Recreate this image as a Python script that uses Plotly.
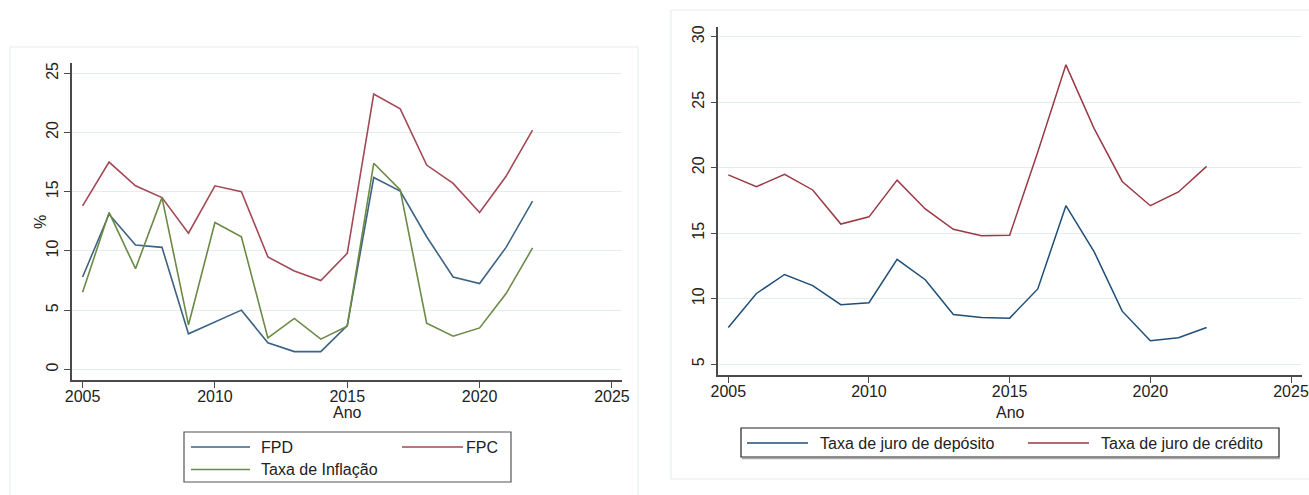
import plotly.graph_objects as go

# ---- data -------------------------------------------------------------
anos = list(range(2005, 2023))

fpd = [7.8, 13.1, 10.5, 10.3, 3.0, 4.0, 5.0, 2.25, 1.5, 1.5, 3.7, 16.2, 15.05,
       11.2, 7.8, 7.25, 10.3, 14.2]
fpc = [13.8, 17.5, 15.5, 14.5, 11.5, 15.5, 15.0, 9.5, 8.3, 7.5, 9.8, 23.25, 22.0,
       17.25, 15.7, 13.25, 16.3, 20.2]
inflacao = [6.5, 13.25, 8.5, 14.5, 3.75, 12.4, 11.2, 2.65, 4.3, 2.55, 3.65, 17.4, 15.15,
            3.9, 2.8, 3.5, 6.4, 10.25]

juro_deposito = [7.8, 10.4, 11.85, 11.0, 9.55, 9.7, 13.0, 11.45, 8.8, 8.57, 8.52, 10.75,
                 17.1, 13.6, 9.05, 6.8, 7.03, 7.8]
juro_credito = [19.45, 18.55, 19.5, 18.3, 15.7, 16.25, 19.05, 16.85, 15.3, 14.8, 14.85,
                21.2, 27.85, 23.0, 18.95, 17.1, 18.15, 20.1]

x_ticks = [2005, 2010, 2015, 2020, 2025]
y_ticks_esq = [0, 5, 10, 15, 20, 25]
y_ticks_dir = [5, 10, 15, 20, 25, 30]

# ---- styling ----------------------------------------------------------
W, H = 1309, 495
FONT = "Liberation Sans, Arial, sans-serif"
FS = 16
AZUL_E, VERM_E, VERDE_E = "#3d6384", "#a34a56", "#6a8a45"
AZUL_D, VERM_D = "#1f4e77", "#993a44"
GRID = "#e6eded"
EIXO = "#4a4a4a"


def px(x):
    return x / W


def py(y):
    return 1 - y / H


fig = go.Figure()

fig.add_trace(go.Scatter(x=anos, y=fpd, mode="lines", line=dict(color=AZUL_E, width=1.6),
                         xaxis="x", yaxis="y", showlegend=False))
fig.add_trace(go.Scatter(x=anos, y=fpc, mode="lines", line=dict(color=VERM_E, width=1.6),
                         xaxis="x", yaxis="y", showlegend=False))
fig.add_trace(go.Scatter(x=anos, y=inflacao, mode="lines", line=dict(color=VERDE_E, width=1.6),
                         xaxis="x", yaxis="y", showlegend=False))

fig.add_trace(go.Scatter(x=anos, y=juro_deposito, mode="lines", line=dict(color=AZUL_D, width=1.5),
                         xaxis="x2", yaxis="y2", showlegend=False))
fig.add_trace(go.Scatter(x=anos, y=juro_credito, mode="lines", line=dict(color=VERM_D, width=1.5),
                         xaxis="x2", yaxis="y2", showlegend=False))

tick_font = dict(family=FONT, size=FS, color="#222")


def eixo_x(dom, rng, anchor):
    return dict(domain=dom, range=rng, anchor=anchor, tickvals=x_ticks,
                showline=True, linecolor=EIXO, linewidth=1.5, ticks="outside",
                ticklen=6, tickwidth=1.3, tickcolor=EIXO, showgrid=False,
                zeroline=False, tickfont=tick_font, automargin=False,
                ticklabelstandoff=-5)


def eixo_y(dom, rng, anchor, vals):
    return dict(domain=dom, range=rng, anchor=anchor, tickvals=vals,
                showline=True, linecolor=EIXO, linewidth=1.5, ticks="outside",
                ticklen=6, tickwidth=1.3, tickcolor=EIXO, showgrid=True,
                gridcolor=GRID, gridwidth=1.3, zeroline=False, tickangle=-90,
                tickfont=tick_font, automargin=False)


shapes = [
    # panel frames
    dict(type="rect", xref="paper", yref="paper", x0=px(10), x1=px(638), y0=py(500), y1=py(47),
         line=dict(color="#e9eeee", width=1.2), fillcolor="white", layer="below"),
    dict(type="rect", xref="paper", yref="paper", x0=px(671), x1=px(1320), y0=py(479), y1=py(10),
         line=dict(color="#e9eeee", width=1.2), fillcolor="white", layer="below"),
    # legend boxes
    dict(type="rect", xref="paper", yref="paper", x0=px(184), x1=px(511), y0=py(482), y1=py(432),
         line=dict(color="#555", width=1.2)),
    dict(type="line", xref="paper", yref="paper", x0=px(742), x1=px(1280), y0=py(458.5), y1=py(458.5),
         line=dict(color="#aaa", width=1.5)),
    dict(type="rect", xref="paper", yref="paper", x0=px(741), x1=px(1279), y0=py(457), y1=py(428),
         line=dict(color="#222", width=1.2), fillcolor="white"),
]

annotations = [
    dict(text="%", x=px(40), y=py(222), textangle=-90),
    dict(text="Ano", x=px(347), y=py(412)),
    dict(text="Ano", x=px(1010), y=py(412)),
]

# legend entries: sample line + label
legendas = [
    (191, 250, 259, 447, AZUL_E, "FPD"),
    (402, 463, 464, 447, VERM_E, "FPC"),
    (191, 250, 259, 469.5, VERDE_E, "Taxa de Inflação"),
    (747, 808, 818, 443, AZUL_D, "Taxa de juro de depósito"),
    (1028, 1089, 1099, 443, VERM_D, "Taxa de juro de crédito"),
]
for x0, x1, xt, yc, cor, txt in legendas:
    shapes.append(dict(type="line", xref="paper", yref="paper", x0=px(x0), x1=px(x1),
                       y0=py(yc), y1=py(yc), line=dict(color=cor, width=1.6)))
    annotations.append(dict(text=txt, x=px(xt), y=py(yc), xanchor="left"))

for a in annotations:
    a.setdefault("xanchor", "center")
    a.update(xref="paper", yref="paper", yanchor="middle", showarrow=False,
             font=dict(family=FONT, size=FS, color="#222"))

fig.update_layout(
    width=W, height=H, margin=dict(l=0, r=0, t=0, b=0),
    paper_bgcolor="white", plot_bgcolor="rgba(0,0,0,0)",
    xaxis=eixo_x([px(72), px(622)], [2004.6, 2025.38], "y"),
    yaxis=eixo_y([py(380), py(63)], [-0.9, 25.87], "x", y_ticks_esq),
    xaxis2=eixo_x([px(718.3), px(1301.7)], [2004.645, 2025.38], "y2"),
    yaxis2=eixo_y([py(375), py(26.7)], [4.18, 30.76], "x2", y_ticks_dir),
    shapes=shapes, annotations=annotations,
)

fig.write_html("out.html")
